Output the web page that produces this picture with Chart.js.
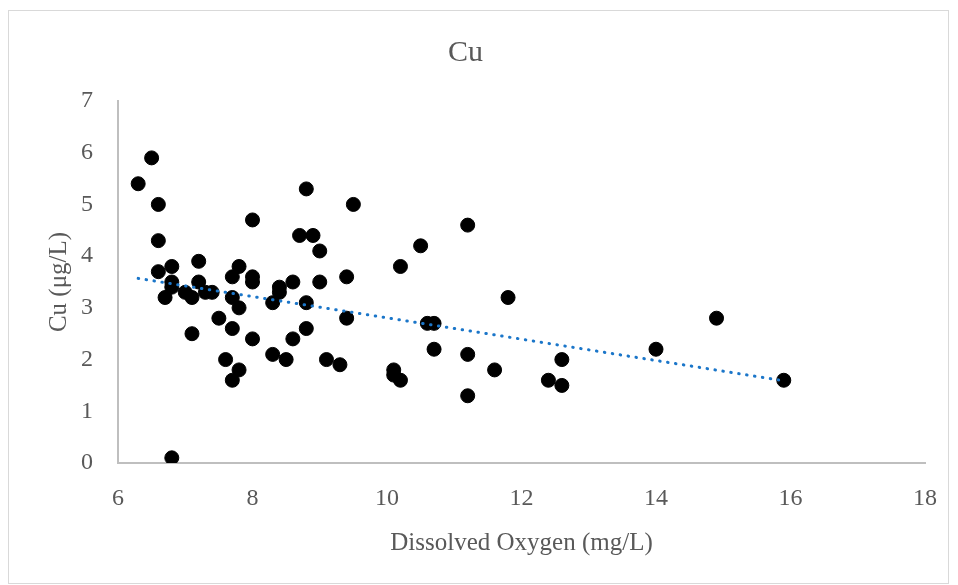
<!DOCTYPE html>
<html>
<head>
<meta charset="utf-8">
<script src="https://cdn.jsdelivr.net/npm/chart.js@4"></script>
<style>
  html, body { margin: 0; padding: 0; background: #fff; }
  #frame { position: absolute; left: 8px; top: 10px; width: 939px; height: 572px; border: 1px solid #d9d9d9; }
  #chart { position: absolute; left: 0; top: 0; }
</style>
</head>
<body>
<div id="frame"></div>
<canvas id="chart" width="958" height="585"></canvas>
<script>
// dissolved oxygen (mg/L) vs copper (ug/L)
const doX = [6.3, 6.5, 6.6, 6.6, 6.6, 6.8, 6.8, 6.8, 6.7, 7.0, 7.1, 7.2, 7.2, 7.3, 7.4, 7.1, 7.5, 7.6,
  7.7, 7.7, 7.7, 7.7, 7.8, 7.8, 7.8, 8.0, 8.0, 8.0, 8.0, 8.3, 8.3, 8.4, 8.4, 8.5, 8.6, 8.6, 8.7, 8.8,
  8.8, 8.8, 8.9, 9.0, 9.0, 9.1, 9.3, 9.4, 9.4, 9.5, 10.1, 10.1, 10.2, 10.2, 10.5, 10.6, 10.7, 10.7,
  11.2, 11.2, 11.2, 11.6, 11.8, 12.4, 12.6, 12.6, 14.0, 14.9, 15.9, 6.8];
const cuY = [5.4, 5.9, 5.0, 4.3, 3.7, 3.8, 3.5, 3.4, 3.2, 3.3, 3.2, 3.9, 3.5, 3.3, 3.3, 2.5, 2.8, 2.0,
  3.6, 3.2, 2.6, 1.6, 3.8, 3.0, 1.8, 4.7, 3.6, 3.5, 2.4, 3.1, 2.1, 3.4, 3.3, 2.0, 3.5, 2.4, 4.4, 5.3,
  3.1, 2.6, 4.4, 4.1, 3.5, 2.0, 1.9, 3.6, 2.8, 5.0, 1.8, 1.7, 1.6, 3.8, 4.2, 2.7, 2.7, 2.2,
  4.6, 2.1, 1.3, 1.8, 3.2, 1.6, 2.0, 1.5, 2.2, 2.8, 1.6, 0.1];

// linear trendline end points
const trendX = [6.3, 15.9];
const trendY = [3.57, 1.59];

const xTicks = [6, 8, 10, 12, 14, 16, 18];
const yTicks = [0, 1, 2, 3, 4, 5, 6, 7];

const gray = '#595959';
const fontFamily = "'Liberation Serif', 'DejaVu Serif', serif";

const points = doX.map((x, i) => ({x: x, y: cuY[i]}));
const trend = trendX.map((x, i) => ({x: x, y: trendY[i]}));

Chart.defaults.font.family = fontFamily;
Chart.defaults.color = gray;

new Chart(document.getElementById('chart'), {
  type: 'scatter',
  data: {
    datasets: [
      {
        type: 'line',
        label: 'Linear (Cu)',
        data: trend,
        order: 0,
        borderColor: '#1b76c9',
        borderWidth: 3,
        borderDash: [0.5, 7.5],
        borderCapStyle: 'round',
        pointRadius: 0,
        fill: false
      },
      {
        label: 'Cu',
        data: points,
        order: 1,
        backgroundColor: '#000',
        borderColor: '#000',
        borderWidth: 1,
        pointRadius: 7,
        pointHoverRadius: 7
      }
    ]
  },
  options: {
    responsive: false,
    animation: false,
    layout: { padding: { left: 0, right: 27, top: 0, bottom: 0 } },
    plugins: {
      legend: { display: false },
      tooltip: { enabled: false },
      title: {
        display: true,
        text: 'Cu',
        color: gray,
        font: { size: 30, weight: 'normal' },
        padding: { top: 35, bottom: 30 }
      }
    },
    scales: {
      x: {
        type: 'linear',
        min: 6,
        max: 18,
        afterBuildTicks: (axis) => { axis.ticks = xTicks.map(v => ({value: v})); },
        afterFit: (axis) => { axis.height = 122; },
        grid: { display: false, drawTicks: false },
        border: { display: true, color: '#bfbfbf', width: 2 },
        ticks: { color: gray, font: { size: 24 }, padding: 21, maxRotation: 0 },
        title: {
          display: true,
          text: 'Dissolved Oxygen (mg/L)',
          color: gray,
          font: { size: 25 },
          padding: { top: 0, bottom: 27 }
        }
      },
      y: {
        type: 'linear',
        min: 0,
        max: 7,
        afterBuildTicks: (axis) => { axis.ticks = yTicks.map(v => ({value: v})); },
        afterFit: (axis) => { axis.width = 118; },
        grid: { display: false, drawTicks: false },
        border: { display: true, color: '#bfbfbf', width: 2 },
        ticks: { color: gray, font: { size: 24 }, padding: 25 },
        title: {
          display: true,
          text: 'Cu (μg/L)',
          color: gray,
          font: { size: 25 },
          padding: { top: 44, bottom: 0 }
        }
      }
    }
  }
});
</script>
</body>
</html>
